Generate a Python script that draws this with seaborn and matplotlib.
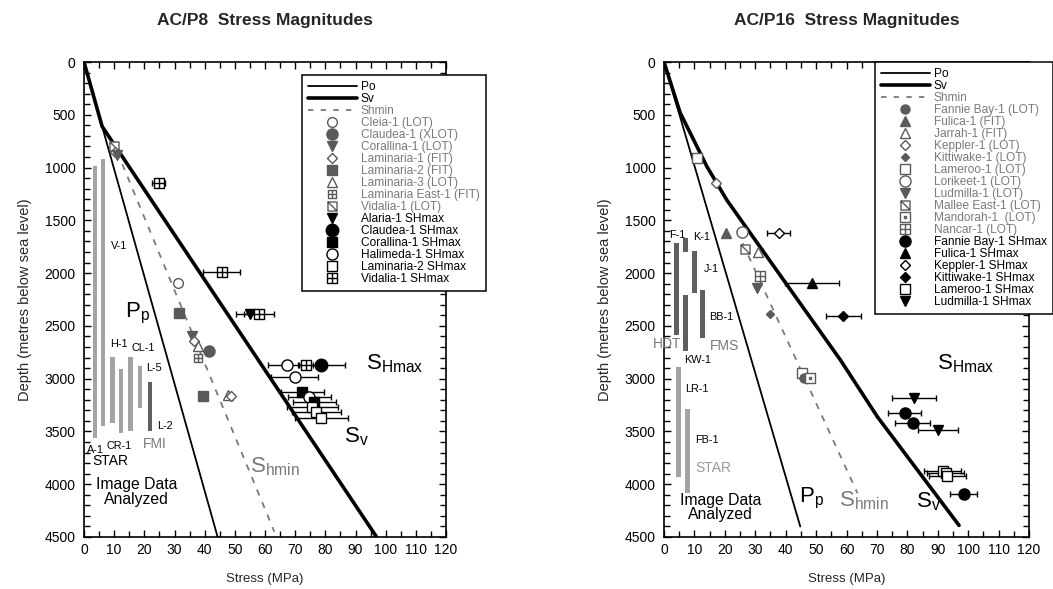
import matplotlib
matplotlib.use('Agg')
import matplotlib.pyplot as plt
import seaborn as sns
from matplotlib.path import Path
from matplotlib.lines import Line2D
from matplotlib.ticker import MultipleLocator

# ------------------------------------------------------------------ data
# AC/P8 stress profiles (MPa vs depth m)
p8_pp_stress = [0.0, 44.3]
p8_pp_depth = [0, 4500]
p8_sv_stress = [0.0, 6.0, 97.0]
p8_sv_depth = [0, 610, 4500]
p8_shmin_stress = [11.0, 63.1]
p8_shmin_depth = [850, 4450]

# AC/P8 leak-off / formation integrity tests
p8_test_well = ['Vidalia-1 (LOT)', 'Laminaria-1 (FIT)', 'Corallina-1 (LOT)',
                'Cleia-1 (LOT)', 'Laminaria-2 (FIT)', 'Corallina-1 (LOT)',
                'Laminaria-1 (FIT)', 'Laminaria-3 (LOT)', 'Claudea-1 (XLOT)',
                'Laminaria East-1 (FIT)', 'Laminaria-2 (FIT)',
                'Laminaria-3 (LOT)', 'Laminaria-1 (FIT)']
p8_test_stress = [10.0, 10.4, 10.8, 31.1, 31.4, 35.7, 36.4, 37.8, 41.3, 37.7,
                  39.3, 47.6, 48.8]
p8_test_depth = [800, 850, 880, 2095, 2380, 2595, 2640, 2690, 2735, 2800,
                 3165, 3150, 3165]

# AC/P8 SHmax estimates
p8_sh_well = ['Vidalia-1 SHmax', 'Vidalia-1 SHmax', 'Alaria-1 SHmax',
              'Vidalia-1 SHmax', 'Halimeda-1 SHmax', 'Vidalia-1 SHmax',
              'Claudea-1 SHmax', 'Halimeda-1 SHmax', 'Corallina-1 SHmax',
              'Halimeda-1 SHmax', 'Corallina-1 SHmax', 'Laminaria-2 SHmax',
              'Laminaria-2 SHmax', 'Laminaria-2 SHmax']
p8_sh_stress = [24.8, 45.6, 54.9, 57.9, 67.4, 73.7, 78.7, 69.8, 72.4, 74.7,
                76.4, 75.7, 77.0, 78.7]
p8_sh_depth = [1150, 1990, 2390, 2390, 2870, 2870, 2870, 2980, 3125, 3170,
               3220, 3265, 3315, 3375]
p8_sh_err = [2.2, 6.0, 4.5, 5.0, 6.4, 2.3, 7.9, 7.7, 7.2, 7.2, 7.0, 8.5, 8.2,
             8.7]

# AC/P8 image-log intervals
p8_img_well = ['A-1', 'V-1', 'H-1', 'CR-1', 'CL-1', 'L-5', 'L-2']
p8_img_stress = [3.6, 6.3, 9.4, 12.3, 15.4, 18.5, 21.9]
p8_img_top = [985, 920, 2795, 2910, 2795, 2880, 3030]
p8_img_base = [3560, 3450, 3420, 3515, 3500, 3280, 3500]
p8_img_tool = ['STAR', 'STAR', 'STAR', 'STAR', 'STAR', 'STAR', 'FMI']

# AC/P16 stress profiles
p16_pp_stress = [0.0, 44.8]
p16_pp_depth = [0, 4400]
p16_sv_stress = [0.0, 5.3, 14.1, 20.7, 39.3, 58.0, 70.2, 97.0]
p16_sv_depth = [0, 480, 990, 1310, 2065, 2823, 3363, 4390]
p16_shmin_stress = [24.0, 63.6]
p16_shmin_depth = [1600, 4085]

# AC/P16 tests
p16_test_well = ['Lameroo-1 (LOT)', 'Keppler-1 (LOT)', 'Fulica-1 (FIT)',
                 'Lorikeet-1 (LOT)', 'Mallee East-1 (LOT)', 'Jarrah-1 (FIT)',
                 'Nancar-1 (LOT)', 'Ludmilla-1 (LOT)', 'Kittiwake-1 (LOT)',
                 'Lameroo-1 (LOT)', 'Fannie Bay-1 (LOT)',
                 'Mandorah-1  (LOT)']
p16_test_stress = [11.0, 17.1, 20.4, 25.6, 26.7, 30.9, 31.4, 30.6, 34.7, 45.4,
                   45.9, 48.0]
p16_test_depth = [906, 1150, 1623, 1607, 1775, 1797, 2027, 2144, 2387, 2949,
                  2997, 2997]

# AC/P16 SHmax estimates
p16_sh_well = ['Keppler-1 SHmax', 'Fulica-1 SHmax', 'Kittiwake-1 SHmax',
               'Ludmilla-1 SHmax', 'Fannie Bay-1 SHmax', 'Fannie Bay-1 SHmax',
               'Ludmilla-1 SHmax', 'Lameroo-1 SHmax', 'Lameroo-1 SHmax',
               'Lameroo-1 SHmax', 'Fannie Bay-1 SHmax']
p16_sh_stress = [37.7, 48.7, 58.9, 82.2, 79.1, 81.7, 90.1, 91.6, 92.6, 93.2,
                 98.5]
p16_sh_depth = [1617, 2097, 2406, 3186, 3328, 3417, 3486, 3872, 3896, 3919,
                4092]
p16_sh_err = [3.7, 8.8, 5.8, 7.3, 5.3, 5.6, 6.7, 6.0, 6.0, 6.0, 4.4]

# AC/P16 image-log intervals
p16_img_well = ['F-1', 'K-1', 'J-1', 'KW-1', 'BB-1', 'LR-1', 'FB-1']
p16_img_stress = [4.2, 7.1, 10.0, 7.1, 12.6, 4.8, 7.7]
p16_img_top = [1712, 1664, 1787, 2207, 2160, 2886, 3287]
p16_img_base = [2586, 1803, 2185, 2735, 2618, 3934, 4086]
p16_img_tool = ['HDT', 'HDT', 'HDT', 'FMS', 'FMS', 'STAR', 'STAR']

p8_legend_order = ['Cleia-1 (LOT)', 'Claudea-1 (XLOT)', 'Corallina-1 (LOT)',
                   'Laminaria-1 (FIT)', 'Laminaria-2 (FIT)', 'Laminaria-3 (LOT)',
                   'Laminaria East-1 (FIT)', 'Vidalia-1 (LOT)',
                   'Alaria-1 SHmax', 'Claudea-1 SHmax', 'Corallina-1 SHmax',
                   'Halimeda-1 SHmax', 'Laminaria-2 SHmax', 'Vidalia-1 SHmax']
p16_legend_order = ['Fannie Bay-1 (LOT)', 'Fulica-1 (FIT)', 'Jarrah-1 (FIT)',
                    'Keppler-1 (LOT)', 'Kittiwake-1 (LOT)', 'Lameroo-1 (LOT)',
                    'Lorikeet-1 (LOT)', 'Ludmilla-1 (LOT)',
                    'Mallee East-1 (LOT)', 'Mandorah-1  (LOT)', 'Nancar-1 (LOT)',
                    'Fannie Bay-1 SHmax', 'Fulica-1 SHmax', 'Keppler-1 SHmax',
                    'Kittiwake-1 SHmax', 'Lameroo-1 SHmax', 'Ludmilla-1 SHmax']

# ------------------------------------------------------------------ styles
sns.set_theme(style='ticks')
plt.rcParams['font.family'] = ['Liberation Sans', 'DejaVu Sans']
plt.rcParams['mathtext.fontset'] = 'custom'
plt.rcParams['mathtext.rm'] = 'Liberation Sans'

M, L, C = Path.MOVETO, Path.LINETO, Path.CLOSEPOLY
BOX_PLUS = Path([(-1, -1), (1, -1), (1, 1), (-1, 1), (-1, -1),
                 (-1, 0), (1, 0), (0, -1), (0, 1)],
                [M, L, L, L, C, M, L, M, L])
BOX_SLASH = Path([(-1, -1), (1, -1), (1, 1), (-1, 1), (-1, -1),
                  (-1, 1), (1, -1)], [M, L, L, L, C, M, L])
BOX_DOT = Path([(-1, -1), (1, -1), (1, 1), (-1, 1), (-1, -1),
                (-0.15, -0.15), (0.15, -0.15), (0.15, 0.15), (-0.15, 0.15),
                (-0.15, -0.15)], [M, L, L, L, C, M, L, L, L, C])

G = '#5a5a5a'   # grey marker colour
GT = '#7a7a7a'  # grey text colour
W = 'white'
K = 'black'


def st(marker, ms, fc, ec, mew=1.0):
    return dict(marker=marker, ms=ms, mfc=fc, mec=ec, mew=mew)


STY = {
    'Cleia-1 (LOT)': st('o', 7, W, G),
    'Claudea-1 (XLOT)': st('o', 8, G, G),
    'Corallina-1 (LOT)': st('v', 7, G, G),
    'Laminaria-1 (FIT)': st('D', 5.5, W, G),
    'Laminaria-2 (FIT)': st('s', 7, G, G),
    'Laminaria-3 (LOT)': st('^', 7, W, G),
    'Laminaria East-1 (FIT)': st(BOX_PLUS, 6, W, G),
    'Vidalia-1 (LOT)': st(BOX_SLASH, 6.5, W, G),
    'Alaria-1 SHmax': st('v', 7, K, K),
    'Claudea-1 SHmax': st('o', 9, K, K),
    'Corallina-1 SHmax': st('s', 7, K, K),
    'Halimeda-1 SHmax': st('o', 8, W, K),
    'Laminaria-2 SHmax': st('s', 7, W, K),
    'Vidalia-1 SHmax': st(BOX_PLUS, 6.5, W, K),
    'Fannie Bay-1 (LOT)': st('o', 6.5, G, G),
    'Fulica-1 (FIT)': st('^', 6.5, G, G),
    'Jarrah-1 (FIT)': st('^', 7, W, G),
    'Keppler-1 (LOT)': st('D', 5, W, G),
    'Kittiwake-1 (LOT)': st('D', 4.5, G, G),
    'Lameroo-1 (LOT)': st('s', 7, W, G),
    'Lorikeet-1 (LOT)': st('o', 8, W, G),
    'Ludmilla-1 (LOT)': st('v', 6.5, G, G),
    'Mallee East-1 (LOT)': st(BOX_SLASH, 6.5, W, G),
    'Mandorah-1  (LOT)': st(BOX_DOT, 6.5, W, G),
    'Nancar-1 (LOT)': st(BOX_PLUS, 6.5, W, G),
    'Fannie Bay-1 SHmax': st('o', 8, K, K),
    'Fulica-1 SHmax': st('^', 7, K, K),
    'Keppler-1 SHmax': st('D', 5, W, K),
    'Kittiwake-1 SHmax': st('D', 5.5, K, K),
    'Lameroo-1 SHmax': st('s', 7, W, K),
    'Ludmilla-1 SHmax': st('v', 7, K, K),
}

TOOL_COL = {'STAR': '#a3a3a3', 'FMI': '#5e5e5e', 'HDT': '#5e5e5e',
            'FMS': '#5e5e5e'}

fig = plt.figure(figsize=(10.53, 5.89), dpi=100)
FW, FH = 1053.0, 589.0
ax1 = fig.add_axes([84 / FW, 1 - 537 / FH, 362 / FW, 475 / FH])
ax2 = fig.add_axes([664 / FW, 1 - 537 / FH, 365 / FW, 475 / FH])


def draw(ax, pp, sv, sh, tests, shmax, img, order, title, leg_anchor, lsp):
    sns.lineplot(x=pp[0], y=pp[1], sort=False, estimator=None, color=K,
                 lw=1.3, ax=ax, zorder=2)
    sns.lineplot(x=sv[0], y=sv[1], sort=False, estimator=None, color=K,
                 lw=2.6, ax=ax, zorder=2)
    sns.lineplot(x=sh[0], y=sh[1], sort=False, estimator=None, color=GT,
                 lw=1.3, linestyle=(0, (3.5, 4)), ax=ax, zorder=2)
    # image-log intervals
    for w, x, t, b, tool in zip(*img):
        ax.bar(x, b - t, bottom=t, width=1.5, color=TOOL_COL[tool],
               linewidth=0, zorder=1)
    # tests
    for w, x, y in zip(*tests):
        ax.plot([x], [y], ls='none', zorder=4, **STY[w])
    # SHmax with error bars
    for w, x, y, e in zip(*shmax):
        ax.errorbar([x], [y], xerr=[e], fmt='none', ecolor=K, elinewidth=1.0,
                    capsize=2.5, capthick=1.0, zorder=3)
    for w, x, y, e in zip(*shmax):
        ax.plot([x], [y], ls='none', zorder=4, **STY[w])

    ax.set_xlim(0, 120)
    ax.set_ylim(4500, 0)
    ax.xaxis.set_major_locator(MultipleLocator(10))
    ax.xaxis.set_minor_locator(MultipleLocator(5))
    ax.yaxis.set_major_locator(MultipleLocator(500))
    ax.yaxis.set_minor_locator(MultipleLocator(100))
    ax.tick_params(which='both', direction='in', top=True, right=True,
                   width=1.0, colors=K, labelsize=10, pad=4)
    ax.tick_params(axis='y', which='both', pad=6)
    ax.tick_params(which='major', length=5)
    ax.tick_params(which='minor', length=4)
    for s in ax.spines.values():
        s.set_linewidth(1.2)
        s.set_color(K)
    ax.set_xlabel('Stress (MPa)', fontsize=9.5, labelpad=12)
    ax.set_ylabel('Depth (metres below sea level)', fontsize=10.5, labelpad=9)
    ax.set_title(title, fontsize=12.5, fontweight='bold', pad=27)

    handles = [Line2D([], [], color=K, lw=1.3),
               Line2D([], [], color=K, lw=2.6),
               Line2D([], [], color=GT, lw=1.3, ls=(0, (3, 4)))]
    labels = ['Po', 'Sv', 'Shmin']
    colors = [K, K, GT]
    for w in order:
        handles.append(Line2D([], [], ls='none', **STY[w]))
        labels.append(w)
        colors.append(K if 'SHmax' in w else GT)
    leg = ax.legend(handles, labels, loc='upper left',
                    bbox_to_anchor=leg_anchor, borderaxespad=0,
                    fontsize=8.6, frameon=True, fancybox=False,
                    edgecolor=K, framealpha=1, handlelength=4.1,
                    handletextpad=0.35, labelspacing=lsp, borderpad=0.5,
                    numpoints=1)
    leg.get_frame().set_linewidth(1.1)
    leg.set_zorder(10)
    for t, c in zip(leg.get_texts(), colors):
        t.set_color(c)


draw(ax1, (p8_pp_stress, p8_pp_depth), (p8_sv_stress, p8_sv_depth),
     (p8_shmin_stress, p8_shmin_depth),
     (p8_test_well, p8_test_stress, p8_test_depth),
     (p8_sh_well, p8_sh_stress, p8_sh_depth, p8_sh_err),
     (p8_img_well, p8_img_stress, p8_img_top, p8_img_base, p8_img_tool),
     p8_legend_order, 'AC/P8  Stress Magnitudes', (0.601, 0.973), 0.0)
draw(ax2, (p16_pp_stress, p16_pp_depth), (p16_sv_stress, p16_sv_depth),
     (p16_shmin_stress, p16_shmin_depth),
     (p16_test_well, p16_test_stress, p16_test_depth),
     (p16_sh_well, p16_sh_stress, p16_sh_depth, p16_sh_err),
     (p16_img_well, p16_img_stress, p16_img_top, p16_img_base, p16_img_tool),
     p16_legend_order, 'AC/P16  Stress Magnitudes', (0.577, 1.0), 0.0)

# ------------------------------------------------------------------ annotations
big = 16
for ax, items in (
    (ax1, [(13.6, 2380, r'$\mathregular{P_p}$', K),
           (93.5, 2855, r'$\mathregular{S_{Hmax}}$', K),
           (54.9, 3834, r'$\mathregular{S_{hmin}}$', GT),
           (86.3, 3550, r'$\mathregular{S_v}$', K)]),
    (ax2, [(44.3, 4133, r'$\mathregular{P_p}$', K),
           (89.7, 2855, r'$\mathregular{S_{Hmax}}$', K),
           (57.5, 4160, r'$\mathregular{S_{hmin}}$', GT),
           (82.8, 4170, r'$\mathregular{S_v}$', K)])):
    for x, y, s, c in items:
        ax.text(x, y, s, fontsize=big, color=c, ha='left', va='center')

small = 7.8
for x, y, s in [(8.8, 1740, 'V-1'), (8.8, 2670, 'H-1'), (15.8, 2712, 'CL-1'),
                (20.7, 2902, 'L-5'), (24.3, 3448, 'L-2'), (0.9, 3675, 'A-1'),
                (7.3, 3638, 'CR-1')]:
    ax1.text(x, y, s, fontsize=small, ha='left', va='center', color=K)
ax1.text(19.6, 3619, 'FMI', fontsize=10, ha='left', va='center', color=GT)
ax1.text(2.9, 3780, 'STAR', fontsize=10, ha='left', va='center', color=K)
ax1.text(17.4, 4073, 'Image Data\nAnalyzed', fontsize=11.3, ha='center',
         va='center', linespacing=0.95, color=K)

for x, y, s in [(1.8, 1639, 'F-1'), (9.7, 1655, 'K-1'), (13.2, 1961, 'J-1'),
                (14.8, 2419, 'BB-1'), (6.6, 2823, 'KW-1'), (7.0, 3101, 'LR-1'),
                (10.2, 3581, 'FB-1')]:
    ax2.text(x, y, s, fontsize=small, ha='left', va='center', color=K)
ax2.text(5.6, 2675, 'HDT', fontsize=10, ha='right', va='center', color=GT)
ax2.text(15.2, 2690, 'FMS', fontsize=10, ha='left', va='center', color=GT)
ax2.text(10.2, 3849, 'STAR', fontsize=10, ha='left', va='center', color='#9a9a9a')
ax2.text(18.5, 4220, 'Image Data\nAnalyzed', fontsize=11.3, ha='center',
         va='center', linespacing=0.95, color=K)

fig.savefig('out.png', dpi=100)
